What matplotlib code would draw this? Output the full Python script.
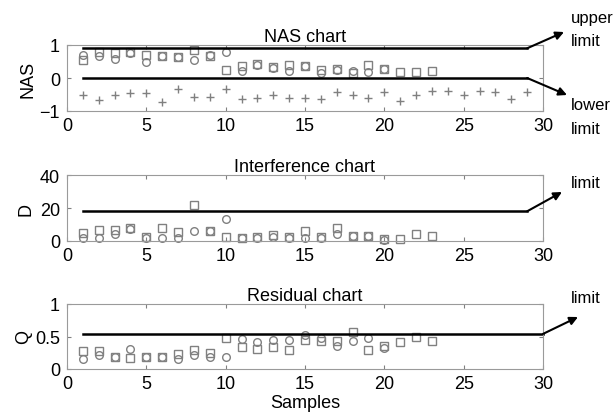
import matplotlib
matplotlib.use("Agg")
import matplotlib.pyplot as plt

plt.rcParams['font.family'] = ['Liberation Sans', 'DejaVu Sans']

# sample indices
samples = list(range(1, 24))
plus_samples = list(range(1, 30))

# NAS chart
nas_sq = [0.55, 0.80, 0.75, 0.80, 0.70, 0.66, 0.64, 0.86, 0.68, 0.25, 0.37, 0.43, 0.33,
          0.38, 0.37, 0.25, 0.28, 0.14, 0.38, 0.27, 0.19, 0.17, 0.22]
nas_ci = [0.70, 0.66, 0.58, 0.76, 0.49, 0.66, 0.64, 0.55, 0.71, 0.78, 0.20, 0.38, 0.30,
          0.20, 0.35, 0.16, 0.23, 0.20, 0.19, 0.27]
nas_plus = [-0.52, -0.66, -0.50, -0.44, -0.44, -0.72, -0.33, -0.59, -0.59, -0.33,
            -0.64, -0.61, -0.53, -0.61, -0.61, -0.63, -0.43, -0.53, -0.62, -0.43,
            -0.69, -0.51, -0.38, -0.40, -0.51, -0.40, -0.41, -0.64, -0.41]
nas_upper = 0.9
nas_lower = 0.0

# Interference chart
d_sq = [4.8, 6.9, 6.9, 7.9, 2.6, 7.9, 5.6, 22.0, 6.2, 2.6, 1.6, 2.2, 3.7, 2.2, 5.9,
        2.4, 7.6, 2.8, 2.8, 1.2, 1.2, 4.2, 3.2]
d_ci = [1.6, 1.6, 4.2, 7.3, 1.8, 1.6, 1.6, 6.2, 5.9, 13.3, 1.6, 1.8, 2.2, 1.8, 1.6,
        1.8, 4.2, 2.8, 2.8, 0.8]
d_limit = 18

# Residual chart
q_sq = [0.27, 0.27, 0.19, 0.17, 0.19, 0.19, 0.23, 0.29, 0.25, 0.47, 0.34, 0.31, 0.34,
        0.30, 0.45, 0.43, 0.43, 0.57, 0.30, 0.35, 0.42, 0.50, 0.43]
q_ci = [0.15, 0.21, 0.19, 0.31, 0.18, 0.19, 0.15, 0.21, 0.19, 0.18, 0.46, 0.42, 0.44,
        0.45, 0.53, 0.48, 0.36, 0.43, 0.48, 0.33]
q_limit = 0.54

gray = '#808080'
W, H = 614, 414
FS = 13

fig = plt.figure(figsize=(W / 100, H / 100), dpi=100)


def px(x, y):
    # pixel position (from top-left) -> figure fraction
    return (x / W, 1 - y / H)


def make_ax(top, bottom):
    ax = fig.add_axes([67 / W, 1 - bottom / H, (543 - 67) / W, (bottom - top) / H])
    ax.set_xlim(0, 30)
    ax.set_xticks(range(0, 31, 5))
    ax.tick_params(direction='in', top=True, right=True, labelsize=FS, length=3,
                   color=gray)
    ax.tick_params(axis='x', pad=4)
    ax.tick_params(axis='y', pad=5)
    for s in ax.spines.values():
        s.set_color('#9a9a9a')
    return ax


def pts(ax, xs, sq, ci):
    ax.plot(xs[:len(sq)], sq, 's', ms=5.5, mfc='none', mec=gray, mew=1, clip_on=False)
    ax.plot(xs[:len(ci)], ci, 'o', ms=5.5, mfc='none', mec=gray, mew=1, clip_on=False)


def arrow(ax, start, end_px):
    ax.annotate('', xy=px(*end_px), xycoords='figure fraction', xytext=start,
                textcoords='data',
                arrowprops=dict(arrowstyle='-|>', color='black', lw=1.5,
                                mutation_scale=12, shrinkA=0, shrinkB=0),
                annotation_clip=False)


def label(x, y, s):
    fig.text(*px(x, y), s, fontsize=12, va='center', ha='left')


# NAS
ax1 = make_ax(46, 112)
ax1.set_ylim(-1, 1)
ax1.set_yticks([-1, 0, 1])
pts(ax1, samples, nas_sq, nas_ci)
ax1.plot(plus_samples, nas_plus, '+', ms=6, color=gray, mew=1)
ax1.plot([1, 29], [nas_upper, nas_upper], color='black', lw=1.8)
ax1.plot([1, 29], [nas_lower, nas_lower], color='black', lw=1.8)
ax1.set_title('NAS chart', fontsize=FS, pad=3)
ax1.set_ylabel('NAS', fontsize=FS, labelpad=2)
arrow(ax1, (29, nas_upper), (564, 33))
arrow(ax1, (29, nas_lower), (567, 96))
label(571, 18, 'upper')
label(571, 42, 'limit')
label(571, 106, 'lower')
label(571, 129, 'limit')

# Interference
ax2 = make_ax(176, 242)
ax2.set_ylim(0, 40)
ax2.set_yticks([0, 20, 40])
pts(ax2, samples, d_sq, d_ci)
ax2.plot([1, 29], [d_limit, d_limit], color='black', lw=1.8)
ax2.set_title('Interference chart', fontsize=FS, pad=3)
ax2.set_ylabel('D', fontsize=FS, labelpad=4)
arrow(ax2, (29, d_limit), (562, 193))
label(571, 184, 'limit')

# Residual
ax3 = make_ax(305, 370)
ax3.set_ylim(0, 1)
ax3.set_yticks([0, 0.5, 1])
ax3.set_yticklabels(['0', '0.5', '1'])
pts(ax3, samples, q_sq, q_ci)
ax3.plot([1, 30], [q_limit, q_limit], color='black', lw=1.8, clip_on=False)
ax3.set_title('Residual chart', fontsize=FS, pad=3)
ax3.set_ylabel('Q', fontsize=FS, labelpad=2)
ax3.set_xlabel('Samples', fontsize=FS, labelpad=2)
arrow(ax3, (30, q_limit), (578, 318))
label(571, 299, 'limit')

fig.savefig('out.png', dpi=100)
